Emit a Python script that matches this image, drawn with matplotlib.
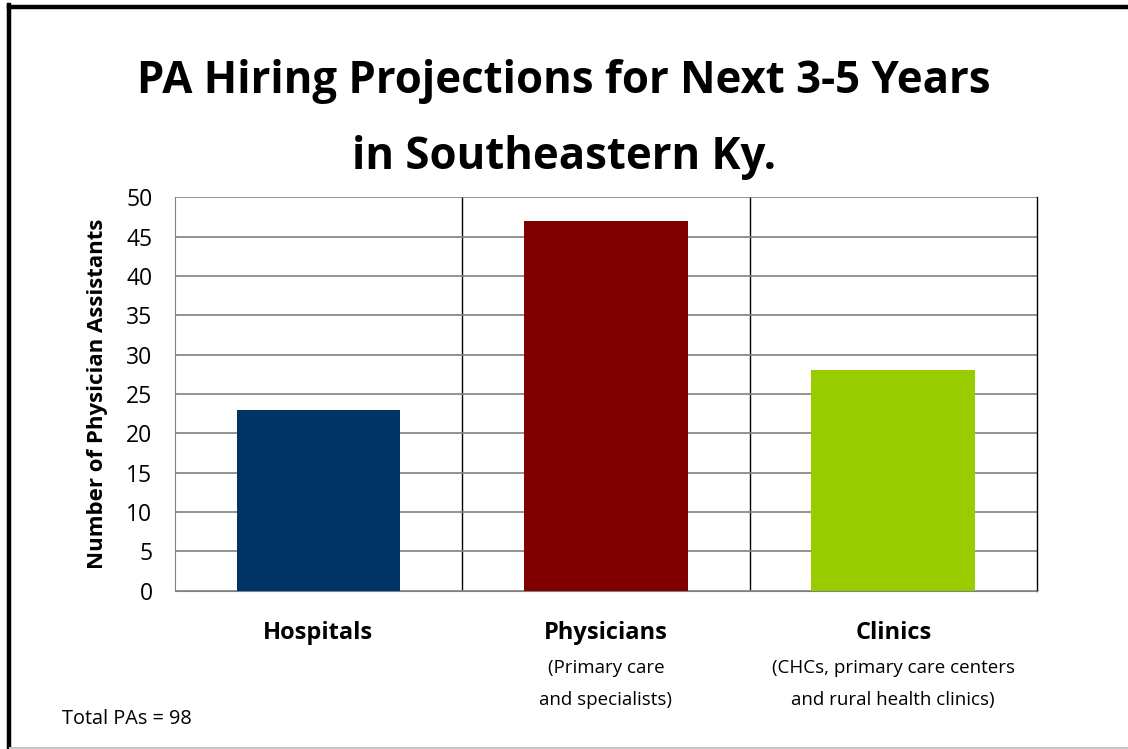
import matplotlib
matplotlib.use("Agg")
import matplotlib.pyplot as plt
from matplotlib.lines import Line2D

categories = ["Hospitals", "Physicians", "Clinics"]
sublabels = ["", "(Primary care\nand specialists)", "(CHCs, primary care centers\nand rural health clinics)"]
values = [23, 47, 28]
colors = ["#003366", "#800000", "#99CC00"]
yticks = list(range(0, 51, 5))
title = "PA Hiring Projections for Next 3-5 Years\nin Southeastern Ky."
ylabel = "Number of Physician Assistants"
note = "Total PAs = 98"

plt.rcParams['font.family'] = ['Open Sans', 'DejaVu Sans']

fig = plt.figure(figsize=(11.28, 7.49), dpi=100)
ax = fig.add_axes([0.1549, 0.2114, 0.9193 - 0.1549, 0.7366 - 0.2114])

x = list(range(len(categories)))
ax.bar(x, values, width=0.57, color=colors, zorder=3)
ax.set_xlim(-0.5, len(categories) - 0.5)
ax.set_ylim(0, 50)
ax.set_yticks(yticks)
ax.set_yticklabels([str(t) for t in yticks], fontsize=16.5)
ax.tick_params(axis='y', length=0, pad=16)
ax.set_xticks([])
ax.yaxis.grid(True, color="#808080", linewidth=1.2, zorder=0)
for b in [i + 0.5 for i in range(len(categories) - 1)]:
    ax.axvline(b, color="#000000", linewidth=1.0, zorder=1)
ax.spines["top"].set_visible(False)
ax.spines["left"].set_color("#808080")
ax.spines["bottom"].set_color("#808080")
ax.spines["right"].set_color("#000000")
ax.spines["right"].set_linewidth(1.0)

ax.set_ylabel(ylabel, fontsize=16, fontweight="bold", va="center")
ax.yaxis.set_label_coords(-0.090, 0.5)

for i, (c, s) in enumerate(zip(categories, sublabels)):
    ax.text(i, -0.108, c, transform=ax.get_xaxis_transform(), ha="center", va="center",
            fontsize=17, fontweight="bold")
    if s:
        lines = s.split("\n")
        ax.text(i, -0.196, lines[0], transform=ax.get_xaxis_transform(), ha="center", va="center",
                fontsize=13.5)
        ax.text(i, -0.278, lines[1], transform=ax.get_xaxis_transform(), ha="center", va="center",
                fontsize=13.5)

fig.text(0.5, 1 - 82 / 749, title.split("\n")[0], ha="center", va="center", fontsize=31.5,
         fontweight="bold")
fig.text(0.5, 1 - 158 / 749, title.split("\n")[1], ha="center", va="center", fontsize=31.5,
         fontweight="bold")
fig.text(62 / 1128, 1 - 719 / 749, note, ha="left", va="center", fontsize=14.3)

# figure border
fig.add_artist(Line2D([8.5 / 1128, 8.5 / 1128], [0, 1 - 5 / 749], color="black", linewidth=3.2,
                      transform=fig.transFigure, solid_capstyle="projecting"))
fig.add_artist(Line2D([8.5 / 1128, 1], [1 - 7 / 749, 1 - 7 / 749], color="black", linewidth=3.2,
                      transform=fig.transFigure))
fig.add_artist(Line2D([10 / 1128, 1], [1.5 / 749, 1.5 / 749], color="#c8c8c8", linewidth=1.5,
                      transform=fig.transFigure))

fig.savefig("out.png", dpi=100)
